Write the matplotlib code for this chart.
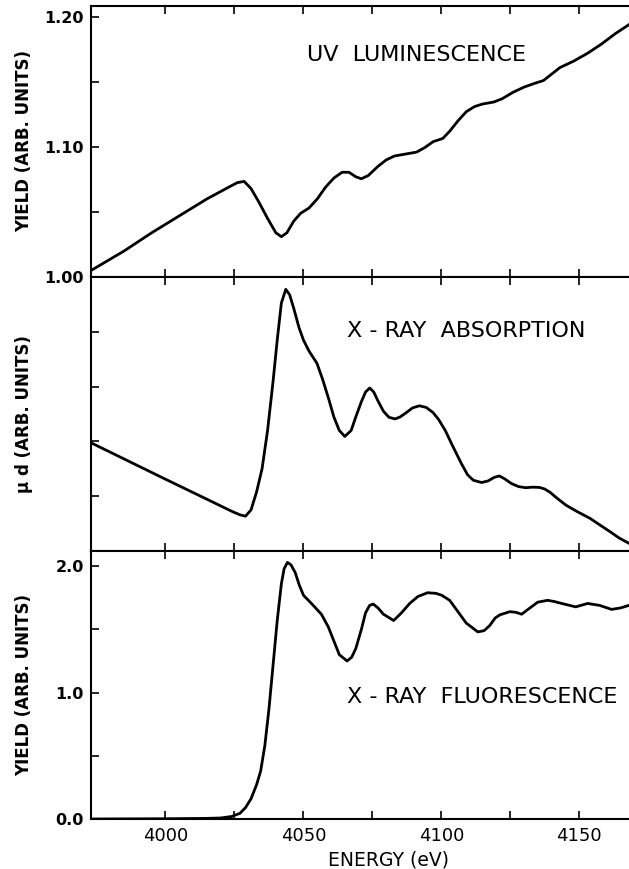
import matplotlib

matplotlib.use("Agg")
import matplotlib.pyplot as plt
from matplotlib.ticker import FixedLocator

# UV luminescence yield
uv_energy = [3973, 3985, 3995, 4005, 4015, 4022, 4026, 4028.5, 4031, 4034, 4037,
             4040, 4042, 4044, 4046.5, 4049, 4052, 4055, 4058, 4061, 4064, 4066.5,
             4069, 4071, 4073.5, 4077, 4080, 4083, 4087, 4091, 4094, 4097, 4100.5,
             4103, 4106, 4109, 4112, 4115, 4119, 4122, 4126, 4130, 4134, 4137,
             4140, 4143, 4148, 4153, 4158, 4163, 4168]
uv_yield = [1.005, 1.020, 1.034, 1.047, 1.060, 1.068, 1.0725, 1.0735, 1.068, 1.057,
            1.045, 1.034, 1.031, 1.034, 1.043, 1.049, 1.053, 1.060, 1.069, 1.076,
            1.0805, 1.0805, 1.077, 1.0755, 1.078, 1.085, 1.090, 1.093, 1.0945,
            1.096, 1.0995, 1.104, 1.1065, 1.112, 1.120, 1.127, 1.131, 1.133, 1.1345,
            1.137, 1.142, 1.146, 1.149, 1.151, 1.156, 1.161, 1.166, 1.172, 1.179,
            1.187, 1.194]

# X-ray absorption, mu*d
abs_energy = [3973, 4000, 4015, 4024, 4027, 4029, 4031, 4033, 4035, 4037, 4039,
              4040.5, 4042, 4043.6, 4045, 4046.5, 4048.4, 4050, 4052, 4054.9, 4057,
              4059.3, 4061, 4063, 4065, 4067.3, 4069, 4071, 4072.5, 4074, 4075.5,
              4077, 4079, 4081, 4083.2, 4085, 4087, 4089.5, 4092, 4094.5, 4097, 4099,
              4101.4, 4104, 4107.2, 4109.5, 4111.6, 4114.6, 4117, 4119, 4121, 4123,
              4125.4, 4128, 4130.6, 4133, 4135.6, 4137.5, 4139.4, 4142, 4145.2, 4149,
              4153.9, 4157, 4161.2, 4164.5, 4168]
abs_mud = [0.395, 0.262, 0.189, 0.145, 0.132, 0.127, 0.150, 0.215, 0.30, 0.44, 0.62,
           0.77, 0.905, 0.955, 0.935, 0.885, 0.815, 0.77, 0.73, 0.685, 0.625, 0.55,
           0.49, 0.44, 0.418, 0.44, 0.49, 0.545, 0.58, 0.595, 0.58, 0.548, 0.51,
           0.488, 0.482, 0.489, 0.503, 0.522, 0.530, 0.524, 0.505, 0.48, 0.44,
           0.385, 0.32, 0.278, 0.258, 0.25, 0.256, 0.268, 0.274, 0.263, 0.246,
           0.235, 0.231, 0.233, 0.232, 0.226, 0.214, 0.192, 0.167, 0.145, 0.119,
           0.098, 0.070, 0.047, 0.028]

# X-ray fluorescence yield
fl_energy = [3973, 4000, 4015, 4020, 4024, 4027, 4029, 4031, 4033, 4034.5, 4036,
             4037.5, 4039, 4040.5, 4042, 4043, 4044.2, 4045.5, 4047, 4048.5, 4050,
             4052.9, 4056.5, 4059, 4061, 4063, 4065.8, 4067.5, 4069, 4071, 4072.5,
             4074, 4075.3, 4077, 4079, 4082.7, 4085.5, 4088.5, 4091.5, 4095, 4098,
             4100.1, 4103, 4106, 4109, 4113.2, 4115.5, 4117.5, 4119.5, 4121.2,
             4124.8, 4127, 4129.1, 4131.5, 4134.9, 4138.5, 4141, 4143.6, 4148.7,
             4153, 4157.3, 4161.7, 4165, 4168]
fl_yield = [0.0, 0.002, 0.005, 0.008, 0.02, 0.045, 0.09, 0.16, 0.27, 0.38, 0.58,
            0.87, 1.22, 1.57, 1.86, 1.98, 2.03, 2.01, 1.95, 1.85, 1.77, 1.705, 1.62,
            1.52, 1.41, 1.30, 1.25, 1.28, 1.35, 1.50, 1.63, 1.69, 1.70, 1.67, 1.62,
            1.57, 1.63, 1.705, 1.76, 1.79, 1.785, 1.77, 1.73, 1.64, 1.55, 1.48,
            1.49, 1.53, 1.59, 1.615, 1.64, 1.635, 1.62, 1.66, 1.715, 1.73, 1.72,
            1.705, 1.678, 1.705, 1.69, 1.658, 1.67, 1.69]

energy_ticks = [4000, 4050, 4100, 4150]
energy_minor = [4025, 4075, 4125]

W, H = 629, 869
fig = plt.figure(figsize=(W / 100, H / 100), dpi=100)
plt.rcParams["font.family"] = ["DejaVu Sans"]

left = 91 / W
panels = [(6, 277), (277, 551), (551, 819)]
axes = []
for top_px, bot_px in panels:
    ax = fig.add_axes([left, 1 - bot_px / H, 1 - left, (bot_px - top_px) / H])
    ax.set_xlim(3973, 4168)
    ax.xaxis.set_major_locator(FixedLocator(energy_ticks))
    ax.xaxis.set_minor_locator(FixedLocator(energy_minor))
    ax.tick_params(axis="both", which="both", direction="in", length=6, width=1.2,
                   top=True, bottom=True, pad=5)
    ax.tick_params(axis="x", labelbottom=False)
    for side in ("left", "top", "bottom"):
        ax.spines[side].set_linewidth(1.5)
    ax.spines["right"].set_visible(False)
    # all three y labels share one column
    ax.yaxis.set_label_coords(-(91 - 33) / 538, 0.5)
    axes.append(ax)

ax_uv, ax_abs, ax_fl = axes
line_kw = dict(color="black", lw=2.0, solid_joinstyle="round")
ylab_kw = dict(fontsize=12, fontweight="bold")
tick_kw = dict(fontsize=11.5, fontweight="bold")
note_kw = dict(fontsize=16, va="center", ha="left")

ax_uv.plot(uv_energy, uv_yield, **line_kw)
ax_uv.set_ylim(1.0, 1.2083)
ax_uv.yaxis.set_major_locator(FixedLocator([1.00, 1.10, 1.20]))
ax_uv.yaxis.set_minor_locator(FixedLocator([1.05, 1.15]))
ax_uv.set_yticklabels(["1.00", "1.10", "1.20"], **tick_kw)
ax_uv.set_ylabel("YIELD (ARB. UNITS)", **ylab_kw)
ax_uv.text(4051.3, 1.1708, "UV  LUMINESCENCE", **note_kw)

ax_abs.plot(abs_energy, abs_mud, **line_kw)
ax_abs.set_ylim(0, 1)
ax_abs.yaxis.set_major_locator(FixedLocator([0.2, 0.4, 0.6, 0.8]))
ax_abs.set_yticklabels([])
ax_abs.set_ylabel("\u03bc d (ARB. UNITS)", **ylab_kw)
ax_abs.text(4065.8, 0.803, "X - RAY  ABSORPTION", **note_kw)

ax_fl.plot(fl_energy, fl_yield, **line_kw)
ax_fl.set_ylim(0, 2.12)
ax_fl.yaxis.set_major_locator(FixedLocator([0.0, 1.0, 2.0]))
ax_fl.yaxis.set_minor_locator(FixedLocator([0.5, 1.5]))
ax_fl.set_yticklabels(["0.0", "1.0", "2.0"], **tick_kw)
ax_fl.set_ylabel("YIELD (ARB. UNITS)", **ylab_kw)
ax_fl.text(4065.8, 0.964, "X - RAY  FLUORESCENCE", **note_kw)
ax_fl.tick_params(axis="x", which="major", labelbottom=True, labelsize=13, pad=6)

fig.text(389 / W, 1 - 860 / H, "ENERGY (eV)", fontsize=13.5, ha="center", va="center")

fig.savefig("out.png", dpi=100, facecolor="white")
plt.close(fig)
